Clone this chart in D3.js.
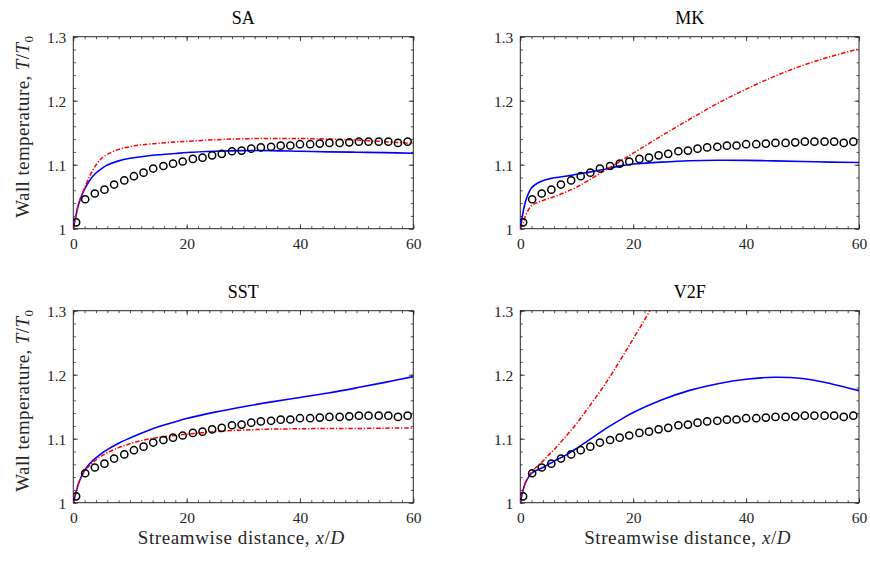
<html>
<head>
<script src="https://d3js.org/d3.v7.min.js"></script>
<style>
  body { margin: 0; background: #fff; }
  svg text { font-family: "Liberation Serif", "DejaVu Serif", "Times New Roman", serif; }
</style>
</head>
<body>
<div id="chart"></div>
<script>

// model curves sampled on a common x/D grid
const xGrid = [0, 0.5, 1, 2, 3, 4, 5, 6, 8, 10, 12, 15, 18, 20, 25, 30, 35, 40, 45, 50, 55, 60];

const saBlue  = [1.0, 1.022, 1.040, 1.062, 1.077, 1.087, 1.094, 1.0995, 1.106, 1.110, 1.1125, 1.1155, 1.1175, 1.119, 1.121, 1.122, 1.122, 1.121, 1.120, 1.1195, 1.1188, 1.118];
const saRed   = [1.0, 1.022, 1.041, 1.064, 1.084, 1.0995, 1.110, 1.116, 1.124, 1.128, 1.131, 1.1335, 1.1355, 1.1365, 1.139, 1.1405, 1.141, 1.141, 1.140, 1.1385, 1.136, 1.133];
const mkBlue  = [1.0, 1.026, 1.045, 1.064, 1.071, 1.075, 1.0775, 1.0795, 1.082, 1.085, 1.088, 1.093, 1.0985, 1.101, 1.104, 1.1062, 1.107, 1.1068, 1.106, 1.105, 1.104, 1.1035];
const mkRed   = [1.0, 1.008, 1.022, 1.036, 1.041, 1.044, 1.047, 1.050, 1.057, 1.065, 1.075, 1.091, 1.107, 1.118, 1.145, 1.171, 1.196, 1.218, 1.238, 1.255, 1.269, 1.281];
const sstBlue = [1.0, 1.017, 1.032, 1.051, 1.062, 1.070, 1.077, 1.083, 1.093, 1.101, 1.1085, 1.1185, 1.1265, 1.1315, 1.1415, 1.150, 1.1575, 1.1645, 1.1715, 1.1795, 1.188, 1.197];
const sstRed  = [1.0, 1.017, 1.032, 1.049, 1.059, 1.067, 1.073, 1.078, 1.086, 1.092, 1.097, 1.102, 1.105, 1.107, 1.111, 1.1135, 1.115, 1.1155, 1.116, 1.116, 1.1165, 1.1167];
const v2fBlue = [1.0, 1.020, 1.033, 1.046, 1.051, 1.055, 1.060, 1.065, 1.074, 1.085, 1.097, 1.115, 1.131, 1.141, 1.1605, 1.1755, 1.186, 1.193, 1.196, 1.194, 1.186, 1.175];
const v2fRed  = [1.0, 1.020, 1.033, 1.048, 1.057, 1.065, 1.0745, 1.083, 1.103, 1.124, 1.148, 1.185, 1.227, 1.256, 1.33, null, null, null, null, null, null, null];

// experimental data (circles)
const expX = [0.5, 2.1, 3.8, 5.5, 7.2, 9.0, 10.7, 12.4, 14.1, 15.9, 17.6, 19.3, 21.1, 22.8, 24.5, 26.2, 28.0, 29.7, 31.4, 33.1, 34.9, 36.6, 38.3, 40.0, 41.8, 43.5, 45.2, 47.0, 48.7, 50.4, 52.1, 53.9, 55.6, 57.3, 59.0];
const expY = [1.010, 1.046, 1.055, 1.061, 1.069, 1.0755, 1.082, 1.0875, 1.094, 1.098, 1.1016, 1.105, 1.109, 1.111, 1.1146, 1.117, 1.121, 1.122, 1.125, 1.127, 1.128, 1.1297, 1.130, 1.132, 1.132, 1.133, 1.134, 1.134, 1.135, 1.136, 1.136, 1.136, 1.136, 1.134, 1.136];

const titles = ["SA", "MK", "SST", "V2F"];
const blueSeries = [saBlue, mkBlue, sstBlue, v2fBlue];
const redSeries = [saRed, mkRed, sstRed, v2fRed];

const xTicks = [0, 20, 40, 60];
const yTicks = [1, 1.1, 1.2, 1.3];
const xMinor = d3.range(0, 61, 2);
const yMinor = d3.range(0, 16).map(i => +(1 + i * 0.02).toFixed(2));

const W = 870, H = 561;
const colLeft = [73.3, 520.3], colWidth = [340, 338.7];
const rowTop = [36.7, 310.7], plotH = 192;
const axisColor = "#262626";
const serif = "'Liberation Serif', 'DejaVu Serif', serif";

const svg = d3.select("#chart").append("svg")
  .attr("width", W).attr("height", H);

titles.forEach((title, i) => {
  const col = i % 2, row = Math.floor(i / 2);
  const w = colWidth[col], h = plotH;
  const g = svg.append("g")
    .attr("transform", "translate(" + colLeft[col] + "," + rowTop[row] + ")");

  const x = d3.scaleLinear().domain([0, 60]).range([0, w]);
  const y = d3.scaleLinear().domain([1, 1.3]).range([h, 0]);

  g.append("clipPath").attr("id", "clip" + i)
    .append("rect").attr("width", w).attr("height", h);

  // ticks on all four sides, pointing inward
  const addAxis = (axis, tx, ty, labels) => {
    const a = g.append("g").attr("transform", "translate(" + tx + "," + ty + ")").call(axis);
    a.attr("font-family", serif);
    a.select(".domain").remove();
    a.selectAll("line").attr("stroke", axisColor).attr("stroke-width", 0.8);
    a.selectAll("text")
      .style("font-family", serif)
      .style("font-size", "15.5px")
      .attr("fill", axisColor);
    if (!labels) a.selectAll("text").remove();
    return a;
  };
  const fmt = d3.format("~g");
  addAxis(d3.axisBottom(x).tickValues(xMinor).tickSize(-2.5).tickFormat(""), 0, h, false);
  addAxis(d3.axisTop(x).tickValues(xMinor).tickSize(-2.5).tickFormat(""), 0, 0, false);
  addAxis(d3.axisLeft(y).tickValues(yMinor).tickSize(-2.5).tickFormat(""), 0, 0, false);
  addAxis(d3.axisRight(y).tickValues(yMinor).tickSize(-2.5).tickFormat(""), w, 0, false);

  addAxis(d3.axisBottom(x).tickValues(xTicks).tickSizeInner(-4.5).tickSizeOuter(0).tickPadding(9).tickFormat(fmt), 0, h, true);
  addAxis(d3.axisTop(x).tickValues(xTicks).tickSize(-4.5).tickFormat(""), 0, 0, false);
  const yl = addAxis(d3.axisLeft(y).tickValues(yTicks).tickSizeInner(-4.5).tickSizeOuter(0).tickPadding(7).tickFormat(fmt), 0, 0, true);
  addAxis(d3.axisRight(y).tickValues(yTicks).tickSize(-4.5).tickFormat(""), w, 0, false);
  yl.selectAll("text").attr("dy", "0.36em");

  g.append("rect")
    .attr("width", w).attr("height", h)
    .attr("fill", "none").attr("stroke", axisColor).attr("stroke-width", 1);

  const line = d3.line()
    .defined(d => d[1] != null)
    .x(d => x(d[0])).y(d => y(d[1]))
    .curve(d3.curveCatmullRom.alpha(0.5));

  const plot = g.append("g").attr("clip-path", "url(#clip" + i + ")");

  plot.append("path")
    .datum(xGrid.map((v, k) => [v, blueSeries[i][k]]))
    .attr("d", line)
    .attr("fill", "none").attr("stroke", "#0000ff").attr("stroke-width", 1.6);

  plot.append("path")
    .datum(xGrid.map((v, k) => [v, redSeries[i][k]]))
    .attr("d", line)
    .attr("fill", "none").attr("stroke", "#ff0000").attr("stroke-width", 1.5)
    .attr("stroke-dasharray", "4.5,1.8,1.2,1.8");

  plot.selectAll("circle")
    .data(expX.map((v, k) => [v, expY[k]]))
    .enter().append("circle")
    .attr("cx", d => x(d[0])).attr("cy", d => y(d[1]))
    .attr("r", 3.6)
    .attr("fill", "none").attr("stroke", "#000").attr("stroke-width", 1.5);

  // panel title
  g.append("text")
    .attr("x", w / 2).attr("y", -12.5)
    .attr("text-anchor", "middle")
    .style("font-family", serif)
    .style("font-size", "18px")
    .attr("fill", "#000")
    .text(title);

  // axis labels on the outer panels only
  if (col === 0) {
    const t = g.append("text")
      .attr("transform", "translate(-44," + (h / 2 - 6) + ") rotate(-90)")
      .attr("text-anchor", "middle")
      .style("font-family", serif)
      .style("font-size", "19px")
      .style("letter-spacing", "0.4px")
      .attr("fill", axisColor);
    t.append("tspan").text("Wall temperature, ");
    t.append("tspan").style("font-style", "italic").text("T");
    t.append("tspan").text("/");
    t.append("tspan").style("font-style", "italic").text("T");
    t.append("tspan").attr("dy", 4).style("font-size", "13px").text("0");
  }
  if (row === 1) {
    const t = g.append("text")
      .attr("x", w / 2 - 2).attr("y", h + 41)
      .attr("text-anchor", "middle")
      .style("font-family", serif)
      .style("font-size", "19px")
      .style("letter-spacing", "0.6px")
      .attr("fill", axisColor);
    t.append("tspan").text("Streamwise distance, ");
    t.append("tspan").style("font-style", "italic").text("x");
    t.append("tspan").text("/");
    t.append("tspan").style("font-style", "italic").text("D");
  }
});

</script>
</body>
</html>
